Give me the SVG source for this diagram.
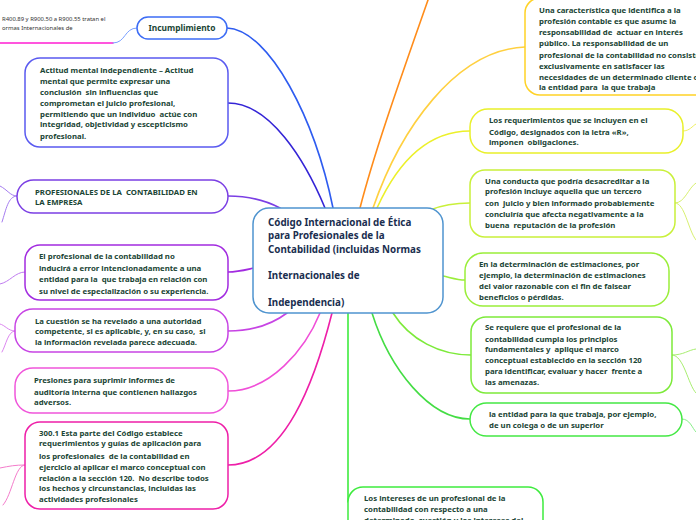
<svg xmlns="http://www.w3.org/2000/svg" width="696" height="520" viewBox="0 0 696 520">
<style>
.n{fill:#fff;stroke-width:1.5}
.t{font-family:"Noto Sans","Open Sans","DejaVu Sans",sans-serif;font-weight:700;font-size:7.8px;fill:#1A4535;white-space:pre}
.c{fill:none;stroke-width:1.6;stroke-linecap:round}
.s{fill:none;stroke-width:1;stroke-linecap:round}
</style>
<rect width="696" height="520" fill="#fff"/>
<g id="connectors">
<path class="c" stroke="#2E5CF0" d="M227,28 C270,30 315,120 333,208"/>
<path class="c" stroke="#3424D6" d="M228,103 C270,103 305,160 325,208"/>
<path class="c" stroke="#7B3FE4" d="M228,196 C250,196 265,200 280,208"/>
<path class="c" stroke="#A22BE0" d="M228,272 C238,272 245,270 254,268"/>
<path class="c" stroke="#C744E4" d="M228,331 C255,331 275,322 287,313"/>
<path class="c" stroke="#F04FD8" d="M228,391 C270,391 305,350 320,313"/>
<path class="c" stroke="#EE1FA8" d="M228,465 C285,465 315,380 332,313"/>
<path class="c" stroke="#FF8C1A" d="M428,0 C400,80 375,150 360,208"/>
<path class="c" stroke="#FFD040" d="M525,47 C455,50 400,130 373,208"/>
<path class="c" stroke="#ECF02A" d="M470,131 C420,131 392,175 377,208"/>
<path class="c" stroke="#C9F03A" d="M470,203 C455,203 440,206 430,210"/>
<path class="c" stroke="#9AEE3A" d="M443,276 C452,278 458,280 465,280"/>
<path class="c" stroke="#7DEA3A" d="M393,313 C410,340 440,355 471,355"/>
<path class="c" stroke="#44DD44" d="M372,313 C390,370 430,419 470,419"/>
<path class="c" stroke="#3EEB3E" d="M348,313 L348,502"/>
<path class="c" stroke="#FF1ED2" d="M0,43 L113,43"/>
<path class="s" stroke="#7AA0FF" d="M113,43 C126,43 124,28 137,28"/>
<path class="s" stroke="#A57CF0" d="M17,196 C10,196 8,190 0,186 M17,196 C8,196 6,210 2,222"/>
<path class="s" stroke="#C07CF0" d="M25,272 C15,272 10,282 0,284"/>
<path class="s" stroke="#DC86F0" d="M15,331 C8,331 5,325 0,324 M15,331 C8,331 6,345 2,352"/>
<path class="s" stroke="#F47CCB" d="M25,465 C15,465 10,466 0,468 M25,465 C15,465 12,495 3,505"/>
<path class="s" stroke="#F0F060" d="M683,131 C690,131 692,126 696,124"/>
<path class="s" stroke="#D8F070" d="M675,203 C685,203 688,188 696,183 M675,203 C685,203 688,230 696,240"/>
<path class="s" stroke="#A8EE70" d="M672,355 C684,355 688,350 696,349 M672,355 C684,355 688,385 696,393"/>
<path class="s" stroke="#88EE88" d="M682,419 C690,419 692,428 696,432"/>
</g>
<g id="note-top-left">
<text font-family="'Noto Sans',sans-serif" font-size="5.9" fill="#333"><tspan x="2" y="21">R400.89 y R900.50 a R900.55 tratan el</tspan><tspan x="2" y="30">ormas Internacionales de</tspan></text>
</g>
<g id="central">
<rect x="253" y="208" width="190" height="105" rx="16" fill="#fff" stroke="#4F94CF" stroke-width="1.5"/>
<text class="t" style="font-size:9.8px;fill:#1A2E4F"><tspan x="268" y="226">Código Internacional de Ética</tspan><tspan x="268" y="239">para Profesionales de la</tspan><tspan x="268" y="252.5">Contabilidad (incluidas Normas</tspan><tspan x="268" y="279">Internacionales de</tspan><tspan x="268" y="305.5">Independencia)</tspan></text>
</g>
<g id="incumplimiento">
<rect class="n" x="137" y="17" width="90" height="22" rx="11" stroke="#3C6CF5"/>
<text class="t" style="font-size:8.4px" x="182" y="31" text-anchor="middle">Incumplimiento</text>
</g>
<g id="actitud">
<rect class="n" x="25" y="58" width="203" height="89" rx="15" stroke="#5A5AF0"/>
<text class="t"><tspan x="40" y="73">Actitud mental independiente – Actitud</tspan><tspan x="40" y="84">mental que permite expresar una</tspan><tspan x="40" y="95">conclusión  sin influencias que</tspan><tspan x="40" y="106">comprometan el juicio profesional,</tspan><tspan x="40" y="116.5">permitiendo que un individuo  actúe con</tspan><tspan x="40" y="127">integridad, objetividad y escepticismo</tspan><tspan x="40" y="138.5">profesional.</tspan></text>
</g>
<g id="profesionales">
<rect class="n" x="17" y="180" width="211" height="33" rx="16.5" stroke="#7B3FE4"/>
<text class="t"><tspan x="35" y="194.5">PROFESIONALES DE LA  CONTABILIDAD EN</tspan><tspan x="35" y="205">LA EMPRESA</tspan></text>
</g>
<g id="el-profesional">
<rect class="n" x="25" y="245" width="203" height="55" rx="15" stroke="#A22BE0"/>
<text class="t"><tspan x="39" y="259">El profesional de la contabilidad no</tspan><tspan x="39" y="270.5">inducirá a error intencionadamente a una</tspan><tspan x="39" y="282">entidad para la  que trabaja en relación con</tspan><tspan x="39" y="293.5">su nivel de especialización o su experiencia.</tspan></text>
</g>
<g id="la-cuestion">
<rect class="n" x="15" y="309" width="213" height="43" rx="18" stroke="#C744E4"/>
<text class="t"><tspan x="35" y="323.5">La cuestión se ha revelado a una autoridad</tspan><tspan x="35" y="333.5">competente, si es aplicable, y, en su caso,  si</tspan><tspan x="35" y="344.5">la información revelada parece adecuada.</tspan></text>
</g>
<g id="presiones">
<rect class="n" x="15" y="368" width="213" height="45" rx="18" stroke="#F055DA"/>
<text class="t"><tspan x="34" y="383">Presiones para suprimir informes de</tspan><tspan x="34" y="394.5">auditoría interna que contienen hallazgos</tspan><tspan x="34" y="405">adversos.</tspan></text>
</g>
<g id="seccion-300">
<rect class="n" x="25" y="422" width="203" height="87" rx="15" stroke="#EE1FA8"/>
<text class="t"><tspan x="39" y="435.5">300.1 Esta parte del Código establece</tspan><tspan x="39" y="446">requerimientos y guías de aplicación para</tspan><tspan x="39" y="458.5">los profesionales  de la contabilidad en</tspan><tspan x="39" y="469.5">ejercicio al aplicar el marco conceptual con</tspan><tspan x="39" y="480.5">relación a la sección 120.  No describe todos</tspan><tspan x="39" y="491">los hechos y circunstancias, incluidas las</tspan><tspan x="39" y="502">actividades profesionales</tspan></text>
</g>
<g id="caracteristica">
<rect class="n" x="525" y="-2" width="190" height="97" rx="15" stroke="#FFD226"/>
<text class="t"><tspan x="539" y="12.5">Una característica que identifica a la</tspan><tspan x="539" y="23.5">profesión contable es que asume la</tspan><tspan x="539" y="34.5">responsabilidad de  actuar en interés</tspan><tspan x="539" y="45.5">público. La responsabilidad de un</tspan><tspan x="539" y="57.5">profesional de la contabilidad no consiste</tspan><tspan x="539" y="68.5">exclusivamente en satisfacer las</tspan><tspan x="539" y="79.5">necesidades de un determinado cliente o</tspan><tspan x="539" y="90">la entidad para  la que trabaja</tspan></text>
</g>
<g id="requerimientos">
<rect class="n" x="470" y="109" width="213" height="44" rx="18" stroke="#E9F02A"/>
<text class="t"><tspan x="489" y="123">Los requerimientos que se incluyen en el</tspan><tspan x="489" y="134.5">Código, designados con la letra «R»,</tspan><tspan x="489" y="145">imponen  obligaciones.</tspan></text>
</g>
<g id="conducta">
<rect class="n" x="470" y="170" width="205" height="67" rx="15" stroke="#C9F03A"/>
<text class="t"><tspan x="485" y="184">Una conducta que podría desacreditar a la</tspan><tspan x="485" y="194">profesión incluye aquella que un tercero</tspan><tspan x="485" y="205.5">con  juicio y bien informado probablemente</tspan><tspan x="485" y="217">concluiría que afecta negativamente a la</tspan><tspan x="485" y="228">buena  reputación de la profesión</tspan></text>
</g>
<g id="estimaciones">
<rect class="n" x="465" y="253" width="204" height="53" rx="18" stroke="#9AEE3A"/>
<text class="t"><tspan x="479" y="267">En la determinación de estimaciones, por</tspan><tspan x="479" y="278">ejemplo, la determinación de estimaciones</tspan><tspan x="479" y="289">del valor razonable con el fin de falsear</tspan><tspan x="479" y="300">beneficios o pérdidas.</tspan></text>
</g>
<g id="se-requiere">
<rect class="n" x="471" y="317" width="201" height="76" rx="15" stroke="#7DEA3A"/>
<text class="t"><tspan x="485" y="330">Se requiere que el profesional de la</tspan><tspan x="485" y="341.5">contabilidad cumpla los principios</tspan><tspan x="485" y="352">fundamentales y  aplique el marco</tspan><tspan x="485" y="363">conceptual establecido en la sección 120</tspan><tspan x="485" y="373.5">para identificar, evaluar y hacer  frente a</tspan><tspan x="485" y="385">las amenazas.</tspan></text>
</g>
<g id="la-entidad">
<rect class="n" x="470" y="403" width="212" height="33" rx="16.5" stroke="#44E844"/>
<text class="t"><tspan x="489" y="417">la entidad para la que trabaja, por ejemplo,</tspan><tspan x="489" y="428">de un colega o de un superior</tspan></text>
</g>
<g id="intereses">
<rect class="n" x="348" y="487" width="195" height="60" rx="15" stroke="#3EEB3E"/>
<text class="t"><tspan x="364" y="501">Los intereses de un profesional de la</tspan><tspan x="364" y="512">contabilidad con respecto a una</tspan><tspan x="364" y="523">determinada  cuestión y los intereses del</tspan></text>
</g>
</svg>
